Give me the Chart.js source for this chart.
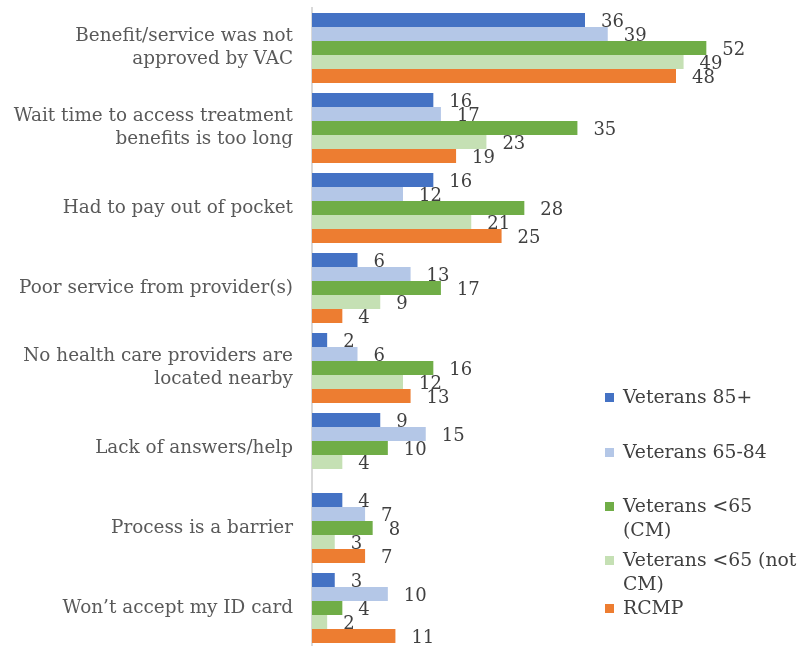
<!DOCTYPE html>
<html>
<head>
<meta charset="utf-8">
<script src="https://cdn.jsdelivr.net/npm/chart.js@4/dist/chart.umd.min.js"></script>
<style>
  html, body { margin: 0; padding: 0; background: #fff; overflow: hidden; }
  #wrap { position: relative; width: 800px; height: 648px; }
  #legend { position: absolute; left: 605px; top: 0; font-family: "DejaVu Serif", serif; font-size: 18.8px; color: #404040; }
  .item { position: absolute; left: 0; width: 195px; line-height: 24px; }
  .item span.sw { position: absolute; left: 0; top: 8px; width: 9px; height: 9px; }
  .item span.tx { display: block; margin-left: 18px; white-space: nowrap; }
</style>
</head>
<body>
<div id="wrap">
  <canvas id="chart" width="800" height="648"></canvas>
  <div id="legend"></div>
</div>
<script>
// categories and series values
const categories = [
  ['Benefit/service was not', 'approved by VAC'],
  ['Wait time to access treatment', 'benefits is too long'],
  'Had to pay out of pocket',
  'Poor service from provider(s)',
  ['No health care providers are', 'located nearby'],
  'Lack of answers/help',
  'Process is a barrier',
  'Won\u2019t accept my ID card'
];
const seriesNames = ['Veterans 85+', 'Veterans 65-84', 'Veterans <65 (CM)', 'Veterans <65 (not CM)', 'RCMP'];
const legendLines = [['Veterans 85+'], ['Veterans 65-84'], ['Veterans <65', '(CM)'], ['Veterans <65 (not', 'CM)'], ['RCMP']];
const vet85 = [36, 16, 16, 6, 2, 9, 4, 3];
const vet6584 = [39, 17, 12, 13, 6, 15, 7, 10];
const vetU65cm = [52, 35, 28, 17, 16, 10, 8, 4];
const vetU65notcm = [49, 23, 21, 9, 12, 4, 3, 2];
const rcmp = [48, 19, 25, 4, 13, null, 7, 11];
const colors = ['#4472C4', '#B4C7E7', '#70AD47', '#C5E0B4', '#ED7D31'];

const serif = '"DejaVu Serif", serif';

// value labels just past the end of each bar
const valueLabels = {
  id: 'valueLabels',
  afterDatasetsDraw(chart) {
    const ctx = chart.ctx;
    ctx.save();
    ctx.font = '18px ' + serif;
    ctx.fillStyle = '#404040';
    ctx.textAlign = 'left';
    ctx.textBaseline = 'middle';
    chart.data.datasets.forEach((ds, i) => {
      chart.getDatasetMeta(i).data.forEach((el, j) => {
        const v = ds.data[j];
        if (v == null) return;
        ctx.fillText(String(v), el.x + 16, el.y + 2);
      });
    });
    ctx.restore();
  }
};

const allSeries = [vet85, vet6584, vetU65cm, vetU65notcm, rcmp];

new Chart(document.getElementById('chart'), {
  type: 'bar',
  data: {
    labels: categories,
    datasets: allSeries.map((d, i) => ({
      label: seriesNames[i],
      data: d,
      backgroundColor: colors[i],
      barPercentage: 1.0,
      categoryPercentage: 0.875
    }))
  },
  options: {
    indexAxis: 'y',
    responsive: false,
    animation: false,
    layout: { padding: { top: 8, right: 33, bottom: 0, left: 0 } },
    plugins: { legend: { display: false }, tooltip: { enabled: false } },
    scales: {
      x: { display: false, min: 0, max: 60 },
      y: {
        grid: { display: false },
        border: { display: true, color: '#D9D9D9', width: 2 },
        ticks: { color: '#595959', padding: 11, font: { family: serif, size: 18.4, lineHeight: 1.25 } },
        afterFit(s) {
          s.width = 312;
          s.paddingTop = 0;
          s.paddingBottom = 0;
        }
      }
    }
  },
  plugins: [valueLabels]
});

// legend built as html on the right
const legendTops = [385, 440, 494, 548, 596];
const legendEl = document.getElementById('legend');
legendLines.forEach((lines, i) => {
  const d = document.createElement('div');
  d.className = 'item';
  d.style.top = legendTops[i] + 'px';
  d.innerHTML = '<span class="sw" style="background:' + colors[i] + '"></span><span class="tx">' +
    lines.map(t => t.replace(/</g, '&lt;')).join('<br>') + '</span>';
  legendEl.appendChild(d);
});
</script>
</body>
</html>
